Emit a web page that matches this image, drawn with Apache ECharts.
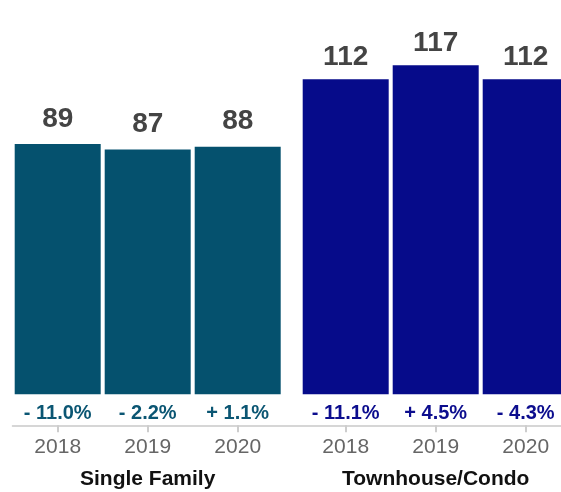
<!DOCTYPE html>
<html>
<head>
<meta charset="utf-8">
<script src="https://cdn.jsdelivr.net/npm/echarts@6/dist/echarts.min.js"></script>
<style>
  html, body { margin: 0; padding: 0; background: #fff; }
  #chart { width: 561px; height: 492px; }
</style>
</head>
<body>
<div id="chart"></div>
<script>
// Years shown under each group
const years = ['2018', '2019', '2020'];

// Values per property type
const singleFamily = [89, 87, 88];
const townhouseCondo = [112, 117, 112];

// Year-over-year change labels
const singleFamilyChange = ['- 11.0%', '- 2.2%', '+ 1.1%'];
const townhouseCondoChange = ['- 11.1%', '+ 4.5%', '- 4.3%'];

// Group titles
const groupNames = ['Single Family', 'Townhouse/Condo'];

const FONT = '"Liberation Sans", Arial, Helvetica, sans-serif';
const TEAL = '#05516e';
const NAVY = '#060b8a';
const RULE = '#d6d6d6';

const GRID_TOP = 56.7;
const GRID_BOTTOM = 97.7;

function yearAxis(gridIndex, name) {
  return {
    gridIndex: gridIndex,
    type: 'category',
    data: years,
    position: 'bottom',
    offset: 31,
    axisLine: { show: true, onZero: false, lineStyle: { color: RULE, width: 2 } },
    axisTick: { show: true, inside: false, alignWithLabel: true, interval: 0, length: 7, lineStyle: { color: '#cdcdcd', width: 2 } },
    axisLabel: { margin: 11, fontSize: 21, color: '#666', fontFamily: FONT },
    name: name,
    nameLocation: 'middle',
    nameGap: 43,
    nameTextStyle: { fontSize: 21, fontWeight: 'bold', color: '#111', fontFamily: FONT }
  };
}

function changeAxis(gridIndex, labels, color) {
  return {
    gridIndex: gridIndex,
    type: 'category',
    data: labels,
    position: 'bottom',
    offset: 0,
    axisLine: { show: false, onZero: false },
    axisTick: { show: false },
    axisLabel: { margin: 9, fontSize: 20, fontWeight: 'bold', color: color, fontFamily: FONT }
  };
}

function valueLabel(distance) {
  return {
    show: true,
    position: 'top',
    distance: distance,
    fontSize: 28,
    fontWeight: 'bold',
    color: '#444',
    fontFamily: FONT
  };
}

const option = {
  backgroundColor: '#fff',
  animation: false,
  grid: [
    { left: 12.7, width: 270, top: GRID_TOP, bottom: GRID_BOTTOM, outerBoundsMode: 'none' },
    { left: 300.7, width: 270, top: GRID_TOP, bottom: GRID_BOTTOM, outerBoundsMode: 'none' },
    // full-width baseline shared by both groups
    { left: 14, right: 0, top: GRID_TOP, bottom: GRID_BOTTOM, outerBoundsMode: 'none' }
  ],
  xAxis: [
    yearAxis(0, groupNames[0]),
    changeAxis(0, singleFamilyChange, '#0b5673'),
    yearAxis(1, groupNames[1]),
    changeAxis(1, townhouseCondoChange, '#0c0d8e'),
    {
      gridIndex: 2,
      type: 'category',
      data: [''],
      position: 'bottom',
      offset: 31,
      axisLine: { show: true, onZero: false, lineStyle: { color: RULE, width: 2 } },
      axisTick: { show: false },
      axisLabel: { show: false }
    }
  ],
  yAxis: [
    { gridIndex: 0, type: 'value', min: 0, max: 120, show: false },
    { gridIndex: 1, type: 'value', min: 0, max: 120, show: false },
    { gridIndex: 2, type: 'value', min: 0, max: 120, show: false }
  ],
  series: [
    {
      name: groupNames[0],
      type: 'bar',
      xAxisIndex: 0,
      yAxisIndex: 0,
      data: singleFamily,
      barWidth: 86,
      itemStyle: { color: TEAL },
      label: valueLabel(11)
    },
    {
      name: groupNames[1],
      type: 'bar',
      xAxisIndex: 2,
      yAxisIndex: 1,
      data: townhouseCondo,
      barWidth: 86,
      itemStyle: { color: NAVY },
      label: valueLabel(8)
    }
  ]
};

const chart = echarts.init(document.getElementById('chart'), null, { renderer: 'canvas' });
chart.setOption(option);
</script>
</body>
</html>
